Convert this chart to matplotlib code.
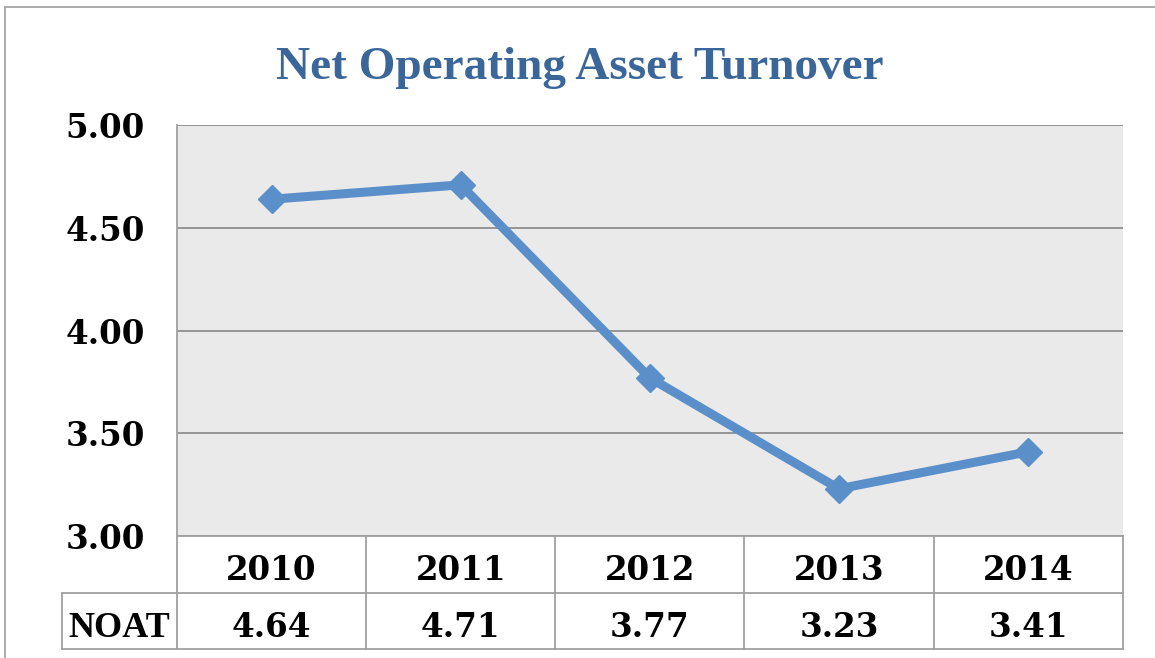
import matplotlib
matplotlib.use("Agg")
import matplotlib.pyplot as plt
from matplotlib.lines import Line2D

# data
years = ["2010", "2011", "2012", "2013", "2014"]
noat = [4.64, 4.71, 3.77, 3.23, 3.41]
row_label = "NOAT"
title = "Net Operating Asset Turnover"
yticks = [3.0, 3.5, 4.0, 4.5, 5.0]

W, H = 1155, 658
plt.rcParams["font.family"] = ["Liberation Serif", "DejaVu Serif"]
plt.rcParams["font.weight"] = "bold"
NUMFONT = ["DejaVu Serif"]   # wide heavy digits, closer to Cambria

fig = plt.figure(figsize=(W / 100, H / 100), dpi=100)
fig.patch.set_facecolor("white")


def fx(px):
    return px / W


def fy(py):
    return 1 - py / H


# plot area in pixels
left, right, top, bottom = 177, 1122.7, 125.3, 536
ax = fig.add_axes([fx(left), fy(bottom), fx(right - left), (bottom - top) / H])
ax.set_facecolor("#EAEAEA")

x = list(range(len(years)))
ax.plot(x, noat, color="#5B8FC9", lw=6.5, marker="D", ms=14,
        solid_joinstyle="miter", zorder=3)

ax.set_xlim(-0.5, len(years) - 0.5)
ax.set_ylim(3.0, 5.0)
ax.set_yticks(yticks)
ax.set_yticklabels([f"{v:.2f}" for v in yticks], fontsize=23.5,
                   fontweight="bold", family=NUMFONT)
ax.tick_params(axis="y", length=0, pad=23)
ax.set_xticks([])
ax.grid(axis="y", color="#8F8F8F", lw=1.3)
ax.set_axisbelow(True)
for s in ["right", "bottom", "top"]:
    ax.spines[s].set_visible(False)
ax.spines["left"].set_color("#A0A0A0")
ax.spines["left"].set_linewidth(1.3)

# title
fig.text(fx(580), fy(79), title, ha="center", va="baseline",
         fontsize=34, fontweight="bold", color="#3A669A")

# data table under the chart
tbl_left, r0, r1, r2 = 62, 536, 593, 649
col_w = (right - left) / len(years)
gc = "#A0A0A0"
lines = [
    ((left, right), (r0, r0)),
    ((tbl_left, right), (r1, r1)),
    ((tbl_left, right), (r2, r2)),
    ((tbl_left, tbl_left), (r1, r2)),
]
for i in range(len(years) + 1):
    xx = left + i * col_w
    lines.append(((xx, xx), (r0, r2)))
for xs, ys in lines:
    fig.add_artist(Line2D([fx(v) for v in xs], [fy(v) for v in ys],
                          color=gc, lw=1.3))

for i, (yr, v) in enumerate(zip(years, noat)):
    cx = left + (i + 0.5) * col_w
    fig.text(fx(cx), fy(580), yr, ha="center", va="baseline",
             fontsize=23.5, fontweight="bold", family=NUMFONT)
    fig.text(fx(cx), fy(637), f"{v:.2f}", ha="center", va="baseline",
             fontsize=23.5, fontweight="bold", family=NUMFONT)
fig.text(fx((tbl_left + left) / 2), fy(637), row_label, ha="center",
         va="baseline", fontsize=26, fontweight="bold")

# outer chart border (cropped on right and bottom)
fig.add_artist(Line2D([fx(5), fx(5)], [fy(6.5), 0], color="#A6A6A6", lw=1.3))
fig.add_artist(Line2D([fx(5), 1], [fy(6.5), fy(6.5)], color="#A6A6A6", lw=1.3))

fig.savefig("out.png", dpi=100)
